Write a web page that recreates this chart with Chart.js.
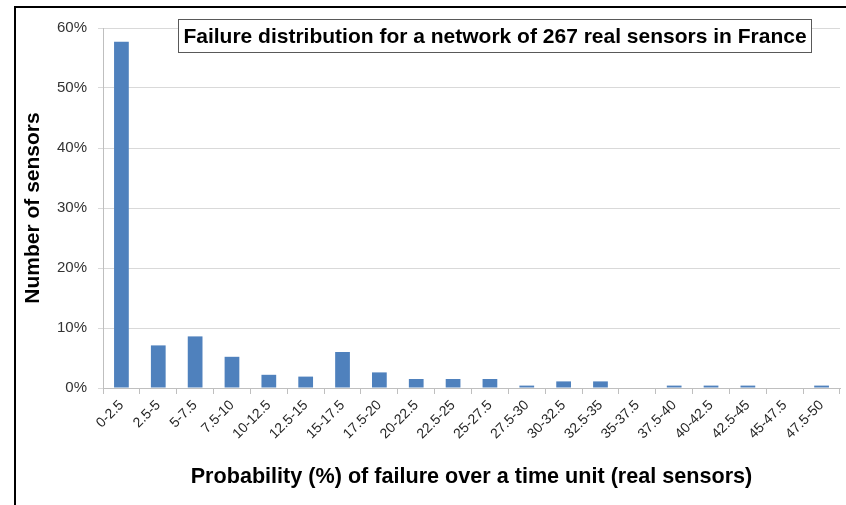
<!DOCTYPE html>
<html>
<head>
<meta charset="utf-8">
<script src="https://cdn.jsdelivr.net/npm/chart.js@4.4.1/dist/chart.umd.min.js"></script>
<style>
  html, body { margin: 0; padding: 0; background: #ffffff; }
  #wrap { width: 846px; height: 505px; position: relative; }
</style>
</head>
<body>
<div id="wrap"><canvas id="c" width="846" height="505"></canvas></div>
<script>
const categories = ["0-2.5","2.5-5","5-7.5","7.5-10","10-12.5","12.5-15","15-17.5","17.5-20","20-22.5","22.5-25","25-27.5","27.5-30","30-32.5","32.5-35","35-37.5","37.5-40","40-42.5","42.5-45","45-47.5","47.5-50"];
const sensorShare = [57.7, 7.1, 8.6, 5.2, 2.2, 1.9, 6.0, 2.6, 1.5, 1.5, 1.5, 0.4, 1.1, 1.1, 0, 0.4, 0.4, 0.4, 0, 0.4];
const yTicks = [0, 10, 20, 30, 40, 50, 60];
const chartTitle = "Failure distribution for a network of 267 real sensors in France";
const xTitle = "Probability (%) of failure over a time unit (real sensors)";
const yTitle = "Number of sensors";

const frameAndTitle = {
  id: 'frameAndTitle',
  afterDraw(chart) {
    const ctx = chart.ctx;
    ctx.save();
    // outer frame
    ctx.strokeStyle = '#000000';
    ctx.lineWidth = 2;
    ctx.beginPath();
    ctx.moveTo(15, 520);
    ctx.lineTo(15, 7);
    ctx.lineTo(860, 7);
    ctx.stroke();
    // title box
    ctx.font = 'bold 21px "Liberation Sans", Arial, sans-serif';
    const w = ctx.measureText(chartTitle).width;
    const cx = 495, cy = 36;
    const bx = Math.round(cx - w / 2 - 5), bw = Math.round(w + 10);
    ctx.fillStyle = '#ffffff';
    ctx.fillRect(bx, 19, bw, 33);
    ctx.strokeStyle = '#595959';
    ctx.lineWidth = 1;
    ctx.strokeRect(bx + 0.5, 19.5, bw, 33);
    ctx.fillStyle = '#000000';
    ctx.textAlign = 'center';
    ctx.textBaseline = 'middle';
    ctx.fillText(chartTitle, cx, cy + 1);
    ctx.restore();
  }
};

new Chart(document.getElementById('c'), {
  type: 'bar',
  data: {
    labels: categories,
    datasets: [{
      data: sensorShare,
      backgroundColor: '#4f81bd',
      borderWidth: 0,
      categoryPercentage: 0.4,
      barPercentage: 1.0
    }]
  },
  options: {
    responsive: false,
    animation: false,
    devicePixelRatio: 1,
    layout: { padding: { left: 0, top: 28, right: 6, bottom: 0 } },
    plugins: { legend: { display: false }, tooltip: { enabled: false }, title: { display: false } },
    scales: {
      x: {
        offset: true,
        grid: { offset: true, drawOnChartArea: false, drawTicks: true, tickLength: 6, color: '#bfbfbf' },
        border: { display: true, color: '#bfbfbf' },
        ticks: {
          autoSkip: false, maxRotation: 45, minRotation: 45, padding: 3,
          color: '#262626',
          font: { family: '"Liberation Sans", sans-serif', size: 14 }
        },
        title: {
          display: true, text: xTitle, color: '#000000',
          font: { family: '"Liberation Sans", Arial, sans-serif', size: 21.6, weight: 'bold' },
          padding: { top: 0, bottom: 15 }
        },
        afterFit(scale) { scale.height = 117; }
      },
      y: {
        min: 0, max: 60,
        afterBuildTicks(scale) { scale.ticks = yTicks.map(v => ({ value: v })); },
        grid: { color: '#d9d9d9', tickLength: 5, drawTicks: true },
        border: { display: true, color: '#bfbfbf' },
        ticks: {
          callback: v => v + '%', padding: 11, color: '#333333',
          font: { family: '"Liberation Sans", sans-serif', size: 15 }
        },
        title: {
          display: true, text: yTitle, color: '#000000',
          font: { family: '"Liberation Sans", Arial, sans-serif', size: 21, weight: 'bold' },
          padding: { top: 21, bottom: 0 }
        },
        afterFit(scale) { scale.width = 103; }
      }
    }
  },
  plugins: [frameAndTitle]
});
</script>
</body>
</html>
